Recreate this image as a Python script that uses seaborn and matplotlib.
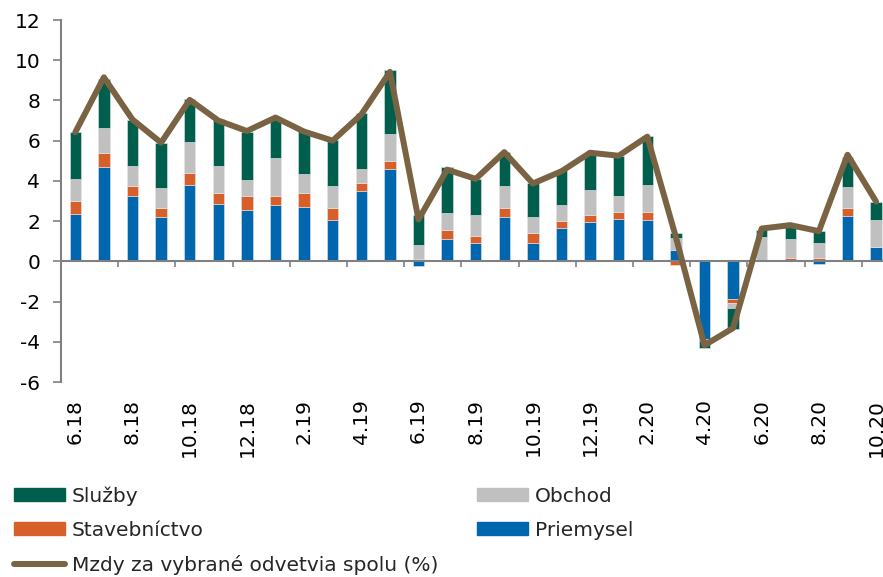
import numpy as np
import pandas as pd
import matplotlib.pyplot as plt
import seaborn as sns
from matplotlib.patches import Patch
from matplotlib.lines import Line2D

# mesiace 6.18 - 10.20
mesiace = ["6.18", "7.18", "8.18", "9.18", "10.18", "11.18", "12.18",
           "1.19", "2.19", "3.19", "4.19", "5.19", "6.19", "7.19", "8.19",
           "9.19", "10.19", "11.19", "12.19",
           "1.20", "2.20", "3.20", "4.20", "5.20", "6.20", "7.20", "8.20",
           "9.20", "10.20"]

priemysel = [2.37, 4.68, 3.23, 2.20, 3.80, 2.85, 2.57, 2.80, 2.70, 2.04,
             3.50, 4.59, -0.23, 1.11, 0.93, 2.19, 0.91, 1.66, 1.96, 2.09,
             2.04, 0.58, -3.85, -1.89, 0.02, 0.03, -0.12, 2.24, 0.71]
stavebnictvo = [0.62, 0.69, 0.50, 0.47, 0.58, 0.55, 0.66, 0.45, 0.70, 0.61,
                0.38, 0.42, 0.13, 0.43, 0.35, 0.45, 0.52, 0.33, 0.34, 0.35,
                0.40, -0.20, -0.11, -0.18, 0.05, 0.16, 0.16, 0.41, 0.00]
obchod = [1.09, 1.25, 1.00, 0.96, 1.54, 1.36, 0.80, 1.89, 0.96, 1.10,
          0.71, 1.31, 0.70, 0.86, 1.04, 1.13, 0.76, 0.81, 1.23, 0.83,
          1.38, 0.60, 0.08, -0.23, 1.16, 0.93, 0.75, 1.03, 1.33]
sluzby = [2.34, 2.47, 2.32, 2.27, 2.14, 2.30, 2.39, 1.96, 2.12, 2.27,
          2.81, 3.20, 1.49, 2.28, 1.78, 1.65, 1.71, 1.73, 1.83, 1.95,
          2.40, 0.25, -0.33, -1.05, 0.35, 0.68, 0.60, 1.51, 0.93]
spolu = [6.42, 9.15, 7.05, 5.90, 8.03, 7.00, 6.48, 7.15, 6.45, 6.00,
         7.30, 9.42, 2.08, 4.56, 4.10, 5.43, 3.87, 4.48, 5.40, 5.25,
         6.20, 1.20, -4.17, -3.32, 1.63, 1.80, 1.50, 5.30, 2.97]

zlozky = [("Priemysel", priemysel, "#0066AD"),
          ("Stavebníctvo", stavebnictvo, "#D75F29"),
          ("Obchod", obchod, "#C0C0C0"),
          ("Služby", sluzby, "#005E4D")]
farba_ciary = "#7A6343"
seda = "#808080"

sns.set_theme(style="white")
plt.rcParams['font.family'] = ['DejaVu Sans']
plt.rcParams['axes.unicode_minus'] = False
fs = 14.5

fig = plt.figure(figsize=(8.83, 5.77), dpi=100)
ax = fig.add_axes([61 / 883, 1 - 382 / 577, 822 / 883, 362 / 577])

n = len(mesiace)
pos_dno = np.zeros(n)
neg_dno = np.zeros(n)
for nazov, hodnoty, farba in zlozky:
    v = np.array(hodnoty)
    dno = np.where(v >= 0, pos_dno, neg_dno)
    df = pd.DataFrame({"mesiac": mesiace, "hodnota": v})
    sns.barplot(data=df, x="mesiac", y="hodnota", order=mesiace, color=farba,
                width=0.4, bottom=dno, errorbar=None, saturation=1,
                edgecolor="#e6e6e6", linewidth=0.4, ax=ax, zorder=2)
    pos_dno = pos_dno + np.where(v >= 0, v, 0)
    neg_dno = neg_dno + np.where(v < 0, v, 0)

sns.lineplot(x=np.arange(n), y=spolu, color=farba_ciary, linewidth=4.3,
             ax=ax, zorder=4)

ax.set_xlim(-0.5, -0.5 + 822 / 28.6)
ax.set_ylim(-6, 12)
ax.set_yticks(np.arange(-6, 13, 2))
ax.set_xticks(np.arange(0, n, 2))
ax.set_xticklabels(mesiace[::2], rotation=90, fontsize=fs, color="black")
ax.set_xlabel("")
ax.set_ylabel("")
ax.tick_params(axis="x", length=0, pad=12)
ax.tick_params(axis="y", left=True, length=6, width=1.2, color=seda,
               pad=9, labelsize=fs, labelcolor="black")

for s in ["top", "right", "bottom"]:
    ax.spines[s].set_visible(False)
ax.spines["left"].set_color(seda)
ax.spines["left"].set_linewidth(1.5)

# nulova os s ciarkami medzi mesiacmi
ax.axhline(0, color=seda, linewidth=1.5, zorder=3)
ax.vlines(np.arange(-0.5, n, 2), -0.28, 0, color=seda, linewidth=1.2,
          zorder=3)

handles = [Patch(color="#005E4D", label="Služby"),
           Patch(color="#D75F29", label="Stavebníctvo"),
           Line2D([], [], color=farba_ciary, linewidth=4.3,
                  label="Mzdy za vybrané odvetvia spolu (%)"),
           Patch(color="#C0C0C0", label="Obchod"),
           Patch(color="#0066AD", label="Priemysel")]
fig.legend(handles=handles, loc="upper left", ncol=2,
           bbox_to_anchor=(14 / 883, 1 - 486 / 577), frameon=False,
           fontsize=fs, borderpad=0, borderaxespad=0, handlelength=2.55,
           handleheight=0.62, handletextpad=0.33, labelspacing=0.76,
           columnspacing=1.9)

fig.savefig("out.png", dpi=100)
